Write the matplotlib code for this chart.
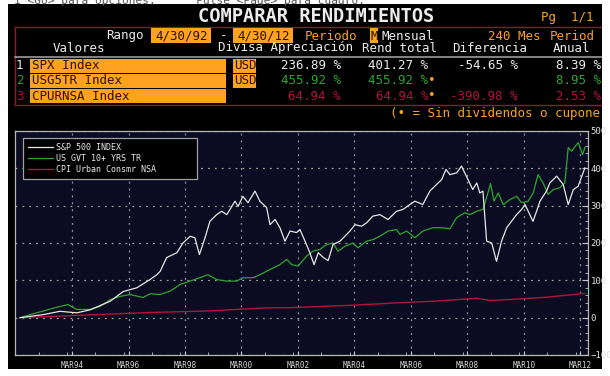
import matplotlib
matplotlib.use('Agg')
import matplotlib.pyplot as plt
from matplotlib.patches import Rectangle
from matplotlib.transforms import Bbox, TransformedBbox
from matplotlib.ticker import MultipleLocator, FixedLocator

# ---- data (cumulative return, %) ----
spx_years = [1992.33, 1993.14, 1993.74, 1994.34, 1994.81, 1995.52, 1995.98, 1996.46, 1996.93, 1997.17,
             1997.29, 1997.52, 1997.88, 1998.10, 1998.35, 1998.52, 1998.68, 1998.88, 1999.05, 1999.29,
             1999.47, 1999.65, 1999.94, 2000.05, 2000.22, 2000.40, 2000.65, 2000.82, 2001.06, 2001.18,
             2001.36, 2001.53, 2001.71, 2001.89, 2002.12, 2002.24, 2002.42, 2002.59, 2002.74, 2002.89,
             2003.07, 2003.24, 2003.41, 2003.66, 2004.01, 2004.19, 2004.42, 2004.60, 2004.82, 2005.07,
             2005.36, 2005.66, 2005.89, 2006.13, 2006.31, 2006.59, 2006.84, 2007.08, 2007.26, 2007.41,
             2007.55, 2007.79, 2007.96, 2008.19, 2008.36, 2008.50, 2008.61, 2008.72, 2008.85, 2009.03,
             2009.20, 2009.38, 2009.56, 2009.73, 2009.91, 2010.09, 2010.21, 2010.38, 2010.49, 2010.62,
             2010.74, 2010.97, 2011.09, 2011.33, 2011.56, 2011.74, 2011.92, 2012.09, 2012.33]
spx_values = [0, 8, 17, 13, 21, 44, 70, 80, 102, 115,
              124, 161, 174, 200, 218, 214, 169, 214, 258, 276,
              285, 276, 312, 298, 325, 308, 339, 312, 295, 249,
              263, 241, 205, 232, 228, 236, 205, 174, 142, 174,
              161, 153, 196, 205, 232, 249, 245, 254, 272, 276,
              263, 285, 290, 303, 312, 303, 339, 357, 370, 397,
              383, 388, 406, 370, 343, 361, 334, 339, 205, 200,
              151, 205, 241, 258, 276, 290, 303, 276, 258, 285,
              312, 339, 361, 379, 357, 303, 343, 352, 401.27]

gvt_years = [1992.33, 1992.92, 1993.74, 1994.03, 1994.34, 1994.81, 1995.16, 1995.52, 1995.87, 1996.22,
             1996.69, 1996.93, 1997.29, 1997.64, 1998.00, 1998.35, 1998.70, 1998.98, 1999.29, 1999.65,
             2000.00, 2000.22, 2000.58, 2000.82, 2001.18, 2001.53, 2001.77, 2001.95, 2002.17, 2002.48,
             2002.70, 2002.95, 2003.19, 2003.41, 2003.59, 2003.83, 2004.12, 2004.29, 2004.60, 2004.82,
             2005.07, 2005.36, 2005.66, 2005.78, 2006.02, 2006.31, 2006.59, 2006.95, 2007.26, 2007.55,
             2007.79, 2008.08, 2008.26, 2008.50, 2008.72, 2008.85, 2008.99, 2009.11, 2009.26, 2009.44,
             2009.67, 2009.91, 2010.09, 2010.32, 2010.50, 2010.67, 2010.85, 2011.03, 2011.21, 2011.44,
             2011.62, 2011.74, 2011.86, 2012.09, 2012.25, 2012.33]
gvt_values = [0, 13, 30, 35, 22, 22, 30, 48, 57, 62,
              54, 64, 62, 71, 89, 98, 107, 115, 102, 98,
              98, 107, 107, 115, 129, 142, 156, 142, 138, 165,
              178, 183, 196, 200, 178, 191, 200, 187, 205, 209,
              218, 232, 236, 223, 232, 214, 232, 241, 241, 238,
              268, 281, 276, 285, 290, 322, 359, 312, 334, 303,
              316, 325, 308, 312, 334, 383, 361, 330, 343, 348,
              361, 456, 446, 469, 437, 455.92]

cpi_years = [1992.33, 1993.0, 1994.0, 1995.0, 1996.0, 1997.0, 1998.0, 1999.0, 2000.0, 2001.0,
             2002.0, 2003.0, 2004.0, 2005.0, 2006.0, 2007.0, 2008.5, 2009.0, 2010.0, 2011.0, 2012.33]
cpi_values = [0, 2, 5, 8, 11, 14, 16, 18, 22, 26,
              27, 30, 33, 37, 41, 44, 52, 46, 50, 55, 64.94]

series_labels = ['S&P 500 INDEX', 'US GVT 10+ YRS TR', 'CPI Urban Consmr NSA']

x_tick_pos = [1994.17, 1996.17, 1998.17, 2000.17, 2002.17, 2004.17, 2006.17, 2008.17, 2010.17, 2012.17]
x_tick_labels = ['MAR94', 'MAR96', 'MAR98', 'MAR00', 'MAR02', 'MAR04', 'MAR06', 'MAR08', 'MAR10', 'MAR12']

tickers = ['SPX Index', 'USG5TR Index', 'CPURNSA Index']
currency = ['USD', 'USD', '']
apreciacion = ['236.89 %', '455.92 %', '64.94 %']
rend_total = ['401.27 %', '455.92 %', '64.94 %']
no_div = [False, True, True]
diferencia = ['-54.65 %', '', '-390.98 %']
anual = ['8.39 %', '8.95 %', '2.53 %']

# ---- styling ----
W, H = 610, 376
MONO = 'DejaVu Sans Mono'
ORANGE = '#ffa21f'
BOX_TXT = '#2a1000'
WHITE = '#ececec'
GREEN = '#2fa52f'
RED = '#b3123c'
row_colors = [WHITE, GREEN, RED]


def fx(x):
    return x / W


def fy(y):
    return 1 - y / H


fig = plt.figure(figsize=(W / 100, H / 100), dpi=100)
fig.patch.set_facecolor('white')

clip = TransformedBbox(Bbox.from_extents(fx(8), fy(369), fx(602), fy(4)), fig.transFigure)

fig.add_artist(Rectangle((fx(8), fy(369)), fx(602) - fx(8), (369 - 4) / H,
                         transform=fig.transFigure, facecolor='black', edgecolor='none', zorder=0))


def txt(x, y, s, color, ha='left', size=9, **kw):
    t = fig.text(fx(x), fy(y), s, color=color, ha=ha, va='center', family=MONO, fontsize=size, zorder=3, **kw)
    t.set_clip_box(clip)
    t.set_clip_on(True)
    return t


def box(x0, x1, y0, y1, color=ORANGE):
    r = Rectangle((fx(x0), fy(y1)), fx(x1) - fx(x0), (y1 - y0) / H, transform=fig.transFigure,
                  facecolor=color, edgecolor='none', zorder=2)
    r.set_clip_box(clip)
    fig.add_artist(r)


def hline(x0, x1, y, color, lw=1.0):
    ln = plt.Line2D([fx(x0), fx(x1)], [fy(y), fy(y)], transform=fig.transFigure, color=color, lw=lw, zorder=2)
    ln.set_clip_box(clip)
    fig.add_artist(ln)


# top (cut off) help line
fig.text(fx(14), fy(1), '1 <Go> para opciones;      Pulse <Page> para cuadro.', color='#555555',
         ha='left', va='center', family=MONO, fontsize=8)

# title
txt(316, 16, 'COMPARAR RENDIMIENTOS', WHITE, ha='center', size=13.5, fontweight='bold')
txt(541, 17, 'Pg  1/1', ORANGE)

# red frame of the table
hline(15, 610, 27, '#a01028')
hline(15, 610, 104.5, '#a01028')
fig.add_artist(plt.Line2D([fx(15), fx(15)], [fy(27), fy(104.5)], transform=fig.transFigure,
                          color='#a01028', lw=1.0, zorder=2))
hline(15, 610, 56.5, '#9a9a9a', lw=1.2)

# range line
txt(106, 36, 'Rango', WHITE)
box(151, 211, 28.5, 43)
txt(155, 36, '4/30/92', BOX_TXT)
txt(220, 36, '-', WHITE)
box(233, 293, 28.5, 43)
txt(237, 36, '4/30/12', BOX_TXT)
txt(305, 36, 'Periodo', ORANGE)
box(370, 378, 28.5, 43)
txt(370.5, 36, 'M', BOX_TXT)
txt(381, 36, 'Mensual', WHITE)
txt(541, 36, '240 Mes', ORANGE, ha='right')
txt(550, 36, 'Period', ORANGE)

# column headers
txt(53, 48, 'Valores', WHITE)
txt(218, 48, 'Divisa Apreciación', WHITE)
txt(362, 48, 'Rend total', WHITE)
txt(452, 48, 'Diferencia', WHITE)
txt(553, 48, 'Anual', WHITE)

# table rows
row_y = [65.5, 80.5, 96]
row_box = [(59, 73), (74, 88), (89, 103)]
for i, name in enumerate(tickers):
    y = row_y[i]
    c = row_colors[i]
    txt(16, y, str(i + 1), c)
    box(30, 226, *row_box[i])
    txt(32, y, name, BOX_TXT)
    if currency[i]:
        box(233, 256, *row_box[i])
        txt(234, y, currency[i], BOX_TXT)
    txt(341, y, apreciacion[i], c, ha='right')
    txt(428, y, rend_total[i], c, ha='right')
    if no_div[i]:
        txt(428, y, '•', ORANGE)
    if diferencia[i]:
        txt(518, y, diferencia[i], c, ha='right')
    txt(556, y, anual[i], c)

txt(390, 114, '(• = Sin dividendos o cupone', ORANGE)

# ---- chart ----
ax = fig.add_axes([fx(15), fy(355), fx(588) - fx(15), (355 - 131) / H])
ax.set_facecolor('#0b0b22')

ax.plot(spx_years, spx_values, color='#e6e6e6', lw=0.9, label=series_labels[0], zorder=4)
ax.plot(gvt_years, gvt_values, color=GREEN, lw=0.9, label=series_labels[1], zorder=3)
ax.plot(cpi_years, cpi_values, color=RED, lw=1.0, label=series_labels[2], zorder=2)

ax.set_xlim(1992.15, 2012.44)
ax.set_ylim(-100, 500)

ax.xaxis.set_major_locator(FixedLocator(x_tick_pos))
ax.set_xticklabels(x_tick_labels)
ax.xaxis.set_minor_locator(MultipleLocator(1.0))
ax.yaxis.set_major_locator(MultipleLocator(100))
ax.yaxis.set_minor_locator(MultipleLocator(20))
ax.yaxis.tick_right()

ax.tick_params(axis='both', which='both', direction='in', colors='#c8c8c8')
ax.tick_params(axis='x', which='major', length=3, pad=4, labelsize=5.5, labelcolor='#d8d8d8')
ax.tick_params(axis='x', which='minor', length=2)
ax.tick_params(axis='y', which='major', length=4, pad=2, labelsize=6.5, labelcolor='#e0e0e0')
ax.tick_params(axis='y', which='minor', length=2)
for lab in ax.get_xticklabels() + ax.get_yticklabels():
    lab.set_family(MONO)

for s in ax.spines.values():
    s.set_color('#b8b8b8')
    s.set_linewidth(0.9)

ax.grid(which='major', color='#9a9a9a', linestyle=(0, (1.5, 4)), linewidth=0.9)

leg = ax.legend(loc='upper left', bbox_to_anchor=(0.014, 0.969 - 0.19, 0.304, 0.19), mode='expand',
                borderaxespad=0, frameon=True, fancybox=False, facecolor='black', edgecolor='#a0a0a0',
                framealpha=1, prop={'family': MONO, 'size': 6}, labelcolor='#e8e8e8',
                handlelength=3.0, handletextpad=0.4, borderpad=0.6, labelspacing=0.25)
leg.get_frame().set_linewidth(0.9)

fig.savefig('out.png', dpi=100, facecolor=fig.get_facecolor())
